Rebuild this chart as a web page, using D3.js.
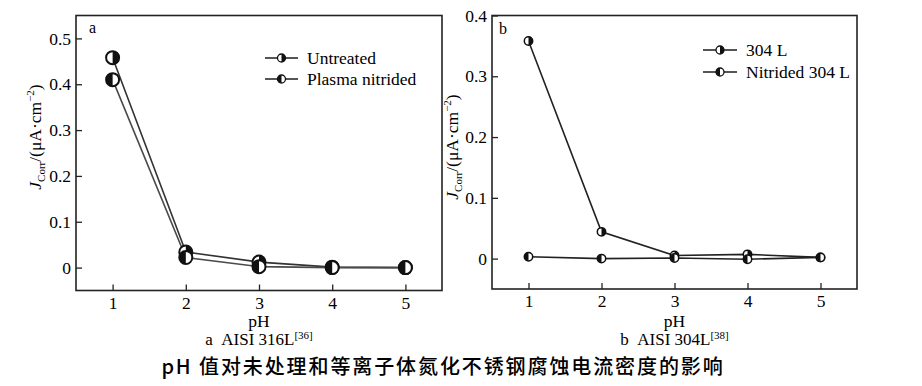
<!DOCTYPE html>
<html>
<head>
<meta charset="utf-8">
<script src="https://cdn.jsdelivr.net/npm/d3@7"></script>
<style>
  html, body { margin: 0; padding: 0; background: #fff; }
  svg { display: block; }
  text { font-family: "Liberation Serif", "Times New Roman", serif; fill: #000; }
</style>
</head>
<body>
<svg id="chart" width="922" height="386"></svg>
<script>
// ---------- data ----------
const phValues = [1, 2, 3, 4, 5];
const xTickLabels = ["1", "2", "3", "4", "5"];

// panel a : AISI 316L
const seriesANames = ["Untreated", "Plasma nitrided"];
const untreatedA = [0.458, 0.034, 0.012, 0.001, 0.000];
const nitridedA  = [0.410, 0.022, 0.002, 0.000, 0.000];
const yTicksA = [0, 0.1, 0.2, 0.3, 0.4, 0.5];

// panel b : AISI 304L
const seriesBNames = ["304 L", "Nitrided 304 L"];
const untreatedB = [0.358, 0.044, 0.005, 0.007, 0.002];
const nitridedB  = [0.003, 0.000, 0.001, -0.001, 0.002];
const yTicksB = [0, 0.1, 0.2, 0.3, 0.4];

const caption = "pH 值对未处理和等离子体氮化不锈钢腐蚀电流密度的影响";

// ---------- drawing ----------
const svg = d3.select("#chart");

function marker(g, r, leftBlack, sw) {
  g.append("circle").attr("r", r).attr("fill", "#fff")
    .attr("stroke", "#111").attr("stroke-width", sw);
  const sweep = leftBlack ? 0 : 1;
  g.append("path")
    .attr("d", `M0,${-r} A${r},${r} 0 0 ${sweep} 0,${r} Z`)
    .attr("fill", "#111");
}

function drawPanel(cfg) {
  const { left, right, top, bottom } = cfg.box;
  const x = d3.scaleLinear().domain([0.5, 5.5]).range([left, right]);
  const y = d3.scaleLinear().domain(cfg.yDomain).range([bottom, top]);
  const g = svg.append("g");

  // axes (inward ticks)
  const yAxis = d3.axisLeft(y).tickValues(cfg.yTicks).tickSize(-6).tickPadding(5)
    .tickFormat(d => d === 0 ? "0" : d3.format(".1f")(d));
  const ya = g.append("g").attr("transform", `translate(${left},0)`).call(yAxis);
  const xAxis = d3.axisBottom(x).tickValues(phValues).tickSize(-6).tickPadding(6)
    .tickFormat((d, i) => xTickLabels[i]);
  const xa = g.append("g").attr("transform", `translate(0,${bottom})`).call(xAxis);
  [ya, xa].forEach(a => {
    a.attr("font-family", null);
    a.select(".domain").remove();
    a.selectAll(".tick line").attr("stroke", "#222").attr("stroke-width", 1.3);
    a.selectAll(".tick text").attr("font-size", 17.5).attr("fill", "#000")
      .style("font-family", "'Liberation Serif', serif");
  });

  // frame
  g.append("rect").attr("x", left).attr("y", top)
    .attr("width", right - left).attr("height", bottom - top)
    .attr("fill", "none").attr("stroke", "#222").attr("stroke-width", 1.6);

  // lines
  const line = d3.line().x((d, i) => x(phValues[i])).y(d => y(d));
  cfg.series.forEach((s, k) => {
    g.append("path").datum(s.values).attr("d", line)
      .attr("fill", "none").attr("stroke", cfg.lineColors[k])
      .attr("stroke-width", 1.6);
  });
  // markers
  cfg.series.forEach(s => {
    s.values.forEach((v, i) => {
      const m = g.append("g").attr("transform", `translate(${x(phValues[i])},${y(v)})`);
      marker(m, cfg.r, s.leftBlack, cfg.msw);
    });
  });

  // panel letter
  g.append("text").attr("x", cfg.letterPos[0]).attr("y", cfg.letterPos[1])
    .attr("font-size", 16).text(cfg.letter);

  // legend
  cfg.series.forEach((s, k) => {
    const ly = cfg.legend.y + k * cfg.legend.dy;
    const lx = cfg.legend.x;
    g.append("line").attr("x1", lx).attr("x2", lx + cfg.legend.len)
      .attr("y1", ly).attr("y2", ly).attr("stroke", "#555").attr("stroke-width", 2);
    const m = g.append("g").attr("transform", `translate(${lx + cfg.legend.len / 2},${ly})`);
    marker(m, 4, s.leftBlack, 1.3);
    g.append("text").attr("x", lx + cfg.legend.len + 9).attr("y", ly + 6)
      .attr("font-size", 17.5).text(s.name);
  });

  // y label
  const yl = g.append("text")
    .attr("transform", `translate(${cfg.yLabel[0]},${cfg.yLabel[1]}) rotate(-90)`)
    .attr("text-anchor", "middle").attr("font-size", 17.5);
  yl.append("tspan").attr("font-style", "italic").text("J");
  yl.append("tspan").attr("font-size", 11).attr("dy", 4).text("Corr");
  yl.append("tspan").attr("dy", -4).text("/(μA·cm");
  yl.append("tspan").attr("font-size", 11).attr("dy", -7).text("−2");
  yl.append("tspan").attr("dy", 7).text(")");

  // x label
  const cx = (left + right) / 2;
  g.append("text").attr("x", cx).attr("y", 327).attr("text-anchor", "middle")
    .attr("font-size", 17.5).text("pH");
  const sub = g.append("text").attr("x", cx).attr("y", 345).attr("text-anchor", "middle")
    .attr("font-size", 17);
  sub.append("tspan").text(cfg.subTitle);
  sub.append("tspan").attr("font-size", 11).attr("dy", -6).text(cfg.ref);
}

drawPanel({
  box: { left: 76, right: 442, top: 15.5, bottom: 290.5 },
  yDomain: [-0.05, 0.55], yTicks: yTicksA,
  series: [
    { name: seriesANames[0], values: untreatedA, leftBlack: false },
    { name: seriesANames[1], values: nitridedA, leftBlack: true }
  ],
  lineColors: ["#333", "#4a4a4a"],
  r: 6.5, msw: 2,
  letter: "a", letterPos: [89, 33],
  legend: { x: 265, y: 58, dy: 21, len: 33 },
  yLabel: [41, 137],
  subTitle: "a\u00a0\u00a0AISI 316L", ref: "[36]"
});

drawPanel({
  box: { left: 492, right: 857, top: 15.5, bottom: 289 },
  yDomain: [-0.05, 0.4], yTicks: yTicksB,
  series: [
    { name: seriesBNames[0], values: untreatedB, leftBlack: false },
    { name: seriesBNames[1], values: nitridedB, leftBlack: true }
  ],
  lineColors: ["#222", "#222"],
  r: 4.2, msw: 1.5,
  letter: "b", letterPos: [499, 34],
  legend: { x: 703, y: 50, dy: 22, len: 34 },
  yLabel: [458, 147],
  subTitle: "b\u00a0\u00a0AISI 304L", ref: "[38]"
});

// caption
svg.append("text")
  .attr("x", 443).attr("y", 374).attr("text-anchor", "middle")
  .attr("font-size", 20).attr("letter-spacing", 1.9).attr("font-weight", 500)
  .style("font-family", "'Noto Sans CJK SC', sans-serif")
  .text(caption);
</script>
</body>
</html>
